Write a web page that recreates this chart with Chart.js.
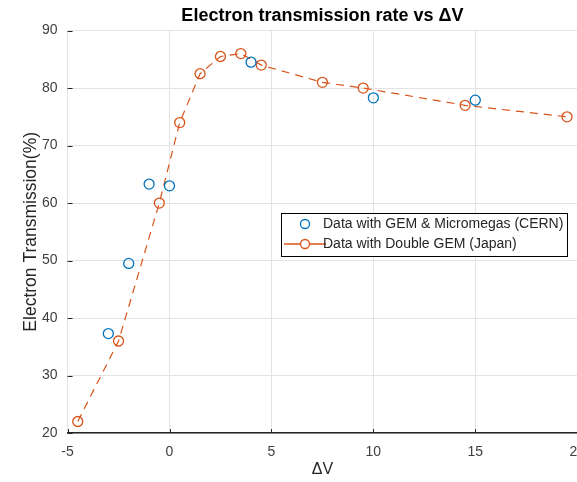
<!DOCTYPE html>
<html>
<head>
<meta charset="utf-8">
<script src="https://cdn.jsdelivr.net/npm/chart.js@4.4.0/dist/chart.umd.min.js"></script>
<style>
  html, body { margin: 0; padding: 0; background: #fff; overflow: hidden; }
  #wrap { width: 577px; height: 482px; overflow: hidden; }
</style>
</head>
<body>
<div id="wrap"><canvas id="chart" width="596" height="482"></canvas></div>
<script>
// values
var cernX = [-3, -2, -1, 0, 4, 10, 15];
var cernY = [37.3, 49.5, 63.3, 63, 84.5, 78.3, 77.9];
var japanX = [-4.5, -2.5, -0.5, 0.5, 1.5, 2.5, 3.5, 4.5, 7.5, 9.5, 14.5, 19.5];
var japanY = [22, 36, 60, 74, 82.5, 85.5, 86, 84, 81, 80, 77, 75];
var xTicks = [-5, 0, 5, 10, 15, 20];
var yTicks = [20, 30, 40, 50, 60, 70, 80, 90];
var seriesNames = ["Data with GEM & Micromegas (CERN)", "Data with Double GEM (Japan)"];

var blue = "#0072BD";
var orange = "#D95319";
var fam = '"Liberation Sans", Arial, sans-serif';

function pts(xs, ys) {
    return xs.map(function (x, i) { return { x: x, y: ys[i] }; });
}

var boxLegend = {
    id: 'boxLegend',
    afterDatasetsDraw: function (chart) {
        // MATLAB style ticks pointing into the axes
        var ctx = chart.ctx;
        var a = chart.chartArea;
        var xs = chart.scales.x, ys = chart.scales.y;
        ctx.save();
        ctx.strokeStyle = '#262626';
        ctx.lineWidth = 1;
        xTicks.forEach(function (t) {
            var px = Math.round(xs.getPixelForValue(t)) + 0.5;
            ctx.beginPath();
            ctx.moveTo(px, a.bottom);
            ctx.lineTo(px, a.bottom - 4);
            ctx.stroke();
        });
        yTicks.forEach(function (t) {
            var py = Math.round(ys.getPixelForValue(t)) + 0.5;
            ctx.beginPath();
            ctx.moveTo(a.left, py);
            ctx.lineTo(a.left + 5, py);
            ctx.stroke();
        });
        ctx.restore();
    },
    afterDraw: function (chart) {
        // legend box with border, inside the plot
        var ctx = chart.ctx;
        var a = chart.chartArea;
        var x = Math.round(a.left + 0.418 * (a.right - a.left));
        var y = Math.round(a.top + 0.454 * (a.bottom - a.top));
        var w = 286, h = 43;
        ctx.save();
        ctx.fillStyle = '#fff';
        ctx.fillRect(x, y, w, h);
        ctx.strokeStyle = '#000';
        ctx.lineWidth = 1;
        ctx.strokeRect(x + 0.5, y + 0.5, w, h);
        ctx.font = '14px ' + fam;
        ctx.textBaseline = 'middle';
        var rows = [y + 11, y + 31];
        ctx.strokeStyle = blue;
        ctx.lineWidth = 1.3;
        ctx.beginPath();
        ctx.arc(x + 24, rows[0], 4.5, 0, Math.PI * 2);
        ctx.stroke();
        ctx.fillStyle = '#262626';
        ctx.fillText(seriesNames[0], x + 42, rows[0]);
        ctx.strokeStyle = orange;
        ctx.beginPath();
        ctx.moveTo(x + 3, rows[1]);
        ctx.lineTo(x + 45, rows[1]);
        ctx.stroke();
        ctx.fillStyle = '#fff';
        ctx.beginPath();
        ctx.arc(x + 24, rows[1], 4.5, 0, Math.PI * 2);
        ctx.fill();
        ctx.stroke();
        ctx.fillStyle = '#262626';
        ctx.fillText(seriesNames[1], x + 42, rows[1]);
        ctx.restore();
    }
};

new Chart('chart', {
    type: 'scatter',
    data: {
        datasets: [
            {
                label: seriesNames[0],
                data: pts(cernX, cernY),
                showLine: false,
                borderColor: blue,
                backgroundColor: 'rgba(0,0,0,0)',
                pointBorderColor: blue,
                pointBackgroundColor: 'rgba(0,0,0,0)',
                pointRadius: 5,
                pointBorderWidth: 1.3
            },
            {
                label: seriesNames[1],
                data: pts(japanX, japanY),
                showLine: true,
                borderColor: orange,
                borderWidth: 1.2,
                borderDash: [8, 6],
                backgroundColor: 'rgba(0,0,0,0)',
                pointBorderColor: orange,
                pointBackgroundColor: 'rgba(0,0,0,0)',
                pointRadius: 5,
                pointBorderWidth: 1.3,
                tension: 0
            }
        ]
    },
    options: {
        responsive: false,
        animation: false,
        layout: { padding: 0 },
        scales: {
            x: {
                type: 'linear',
                min: -5,
                max: 20,
                afterBuildTicks: function (s) { s.ticks = xTicks.map(function (v) { return { value: v }; }); },
                grid: { color: '#e3e3e3', drawTicks: false },
                border: { display: true, color: '#262626', width: 1.5 },
                ticks: { color: '#404040', padding: 11, font: { size: 14, family: fam } },
                title: {
                    display: true,
                    text: 'ΔV',
                    color: '#262626',
                    padding: { top: -12, bottom: 3 },
                    font: { size: 16, family: fam }
                }
            },
            y: {
                min: 20,
                max: 90,
                afterBuildTicks: function (s) { s.ticks = yTicks.map(function (v) { return { value: v }; }); },
                grid: { color: '#e3e3e3', drawTicks: false },
                border: { display: false },
                ticks: { color: '#404040', padding: 10, font: { size: 14, family: fam } },
                title: {
                    display: true,
                    text: 'Electron Transmission(%)',
                    color: '#262626',
                    padding: { top: 21, bottom: -10 },
                    font: { size: 17.5, family: fam }
                }
            }
        },
        plugins: {
            legend: { display: false },
            tooltip: { enabled: false },
            title: {
                display: true,
                fullSize: false,
                text: 'Electron transmission rate vs ΔV',
                color: '#000',
                padding: { top: 5, bottom: 4 },
                font: { size: 18, weight: 'bold', family: fam }
            }
        }
    },
    plugins: [boxLegend]
});
</script>
</body>
</html>
